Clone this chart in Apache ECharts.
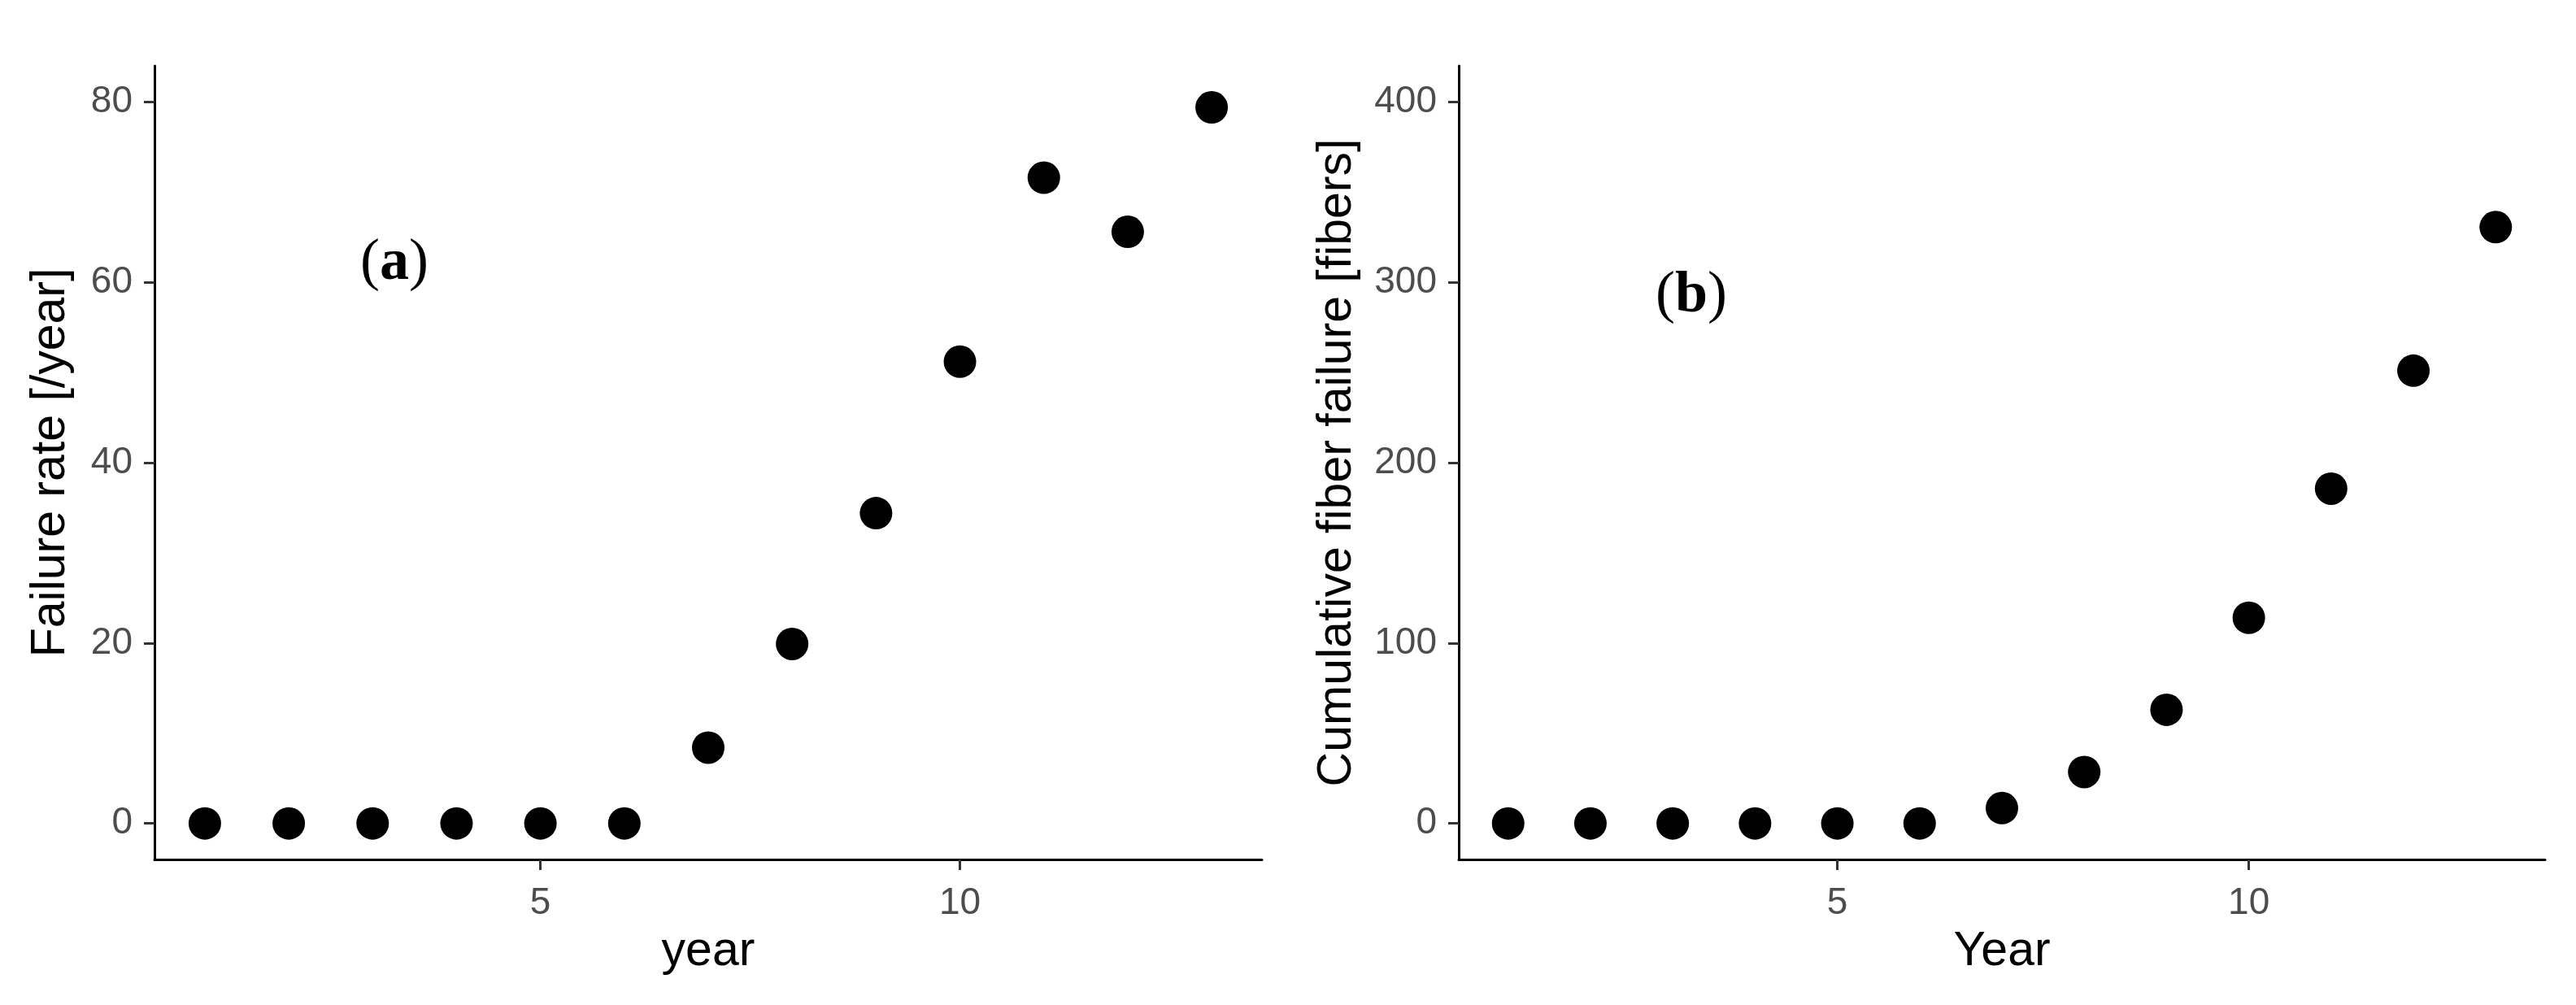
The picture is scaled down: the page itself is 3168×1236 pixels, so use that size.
<!DOCTYPE html>
<html>
<head>
<meta charset="utf-8">
<script src="https://cdn.jsdelivr.net/npm/echarts@6.0.0/dist/echarts.min.js"></script>
<style>
  html, body { margin: 0; padding: 0; background: #fff; }
  #chart { width: 3168px; height: 1236px; }
</style>
</head>
<body>
<div id="chart"></div>
<script>
// data
const years = [1, 2, 3, 4, 5, 6, 7, 8, 9, 10, 11, 12, 13];
const failureRate = [0, 0, 0, 0, 0, 0, 8.4, 19.9, 34.4, 51.2, 71.6, 65.6, 79.4];
const cumulativeFailure = [0, 0, 0, 0, 0, 0, 8.5, 28.5, 63, 114, 185.6, 251, 330.6];

const xTicks = [5, 10];
const leftYTicks = [0, 20, 40, 60, 80];
const rightYTicks = [0, 100, 200, 300, 400];

const sans = '"Liberation Sans", Arial, sans-serif';
const serif = '"Liberation Serif", "Times New Roman", serif';
const tickGrey = '#4d4d4d';

function xAxisFor(gridIndex, name) {
	return {
		type: 'value',
		gridIndex,
		min: 0.4,
		max: 13.6,
		name,
		nameLocation: 'middle',
		nameGap: 84,
		nameTextStyle: { fontFamily: sans, fontSize: 59, color: '#000' },
		axisLine: { show: true, onZero: false, lineStyle: { color: '#000', width: 3 } },
		axisTick: { show: true, length: 13, lineStyle: { color: '#333', width: 3 }, customValues: xTicks },
		axisLabel: { fontFamily: sans, fontSize: 46, color: tickGrey, margin: 31, customValues: xTicks },
		splitLine: { show: false },
	};
}

function yAxisFor(gridIndex, name, min, max, ticks, gap) {
	return {
		type: 'value',
		gridIndex,
		min,
		max,
		name,
		nameLocation: 'middle',
		nameGap: gap,
		nameTextStyle: { fontFamily: sans, fontSize: 59, color: '#000' },
		axisLine: { show: true, onZero: false, lineStyle: { color: '#000', width: 3 } },
		axisTick: { show: true, length: 13, lineStyle: { color: '#333', width: 3 }, customValues: ticks },
		axisLabel: { fontFamily: sans, fontSize: 46, color: tickGrey, margin: 27, customValues: ticks },
		splitLine: { show: false },
	};
}

function panelLabel(letter, x, y) {
	return {
		type: 'text', x, y,
		style: {
			text: `{p|(}{b|${letter}}{p|)}`,
			align: 'center', verticalAlign: 'middle',
			rich: {
				p: { fontFamily: serif, fontSize: 72, fill: '#000' },
				b: { fontFamily: serif, fontSize: 72, fontWeight: 'bold', fill: '#000' },
			},
		},
	};
}

const chart = echarts.init(document.getElementById('chart'));
chart.setOption({
	animation: false,
	backgroundColor: '#fff',
	grid: [
		{ left: 190, top: 81, width: 1362, height: 976 },
		{ left: 1794, top: 81, width: 1336, height: 976 },
	],
	xAxis: [xAxisFor(0, 'year'), xAxisFor(1, 'Year')],
	yAxis: [
		yAxisFor(0, 'Failure rate [/year]', -4, 84, leftYTicks, 98),
		yAxisFor(1, 'Cumulative fiber failure [fibers]', -20, 420, rightYTicks, 120),
	],
	series: [
		{
			type: 'scatter',
			xAxisIndex: 0,
			yAxisIndex: 0,
			symbolSize: 40,
			itemStyle: { color: '#000', opacity: 1 },
			data: years.map((y, i) => [y, failureRate[i]]),
		},
		{
			type: 'scatter',
			xAxisIndex: 1,
			yAxisIndex: 1,
			symbolSize: 40,
			itemStyle: { color: '#000', opacity: 1 },
			data: years.map((y, i) => [y, cumulativeFailure[i]]),
		},
	],
	graphic: [
		panelLabel('a', 485, 324),
		panelLabel('b', 2080, 364),
	],
});
</script>
</body>
</html>
